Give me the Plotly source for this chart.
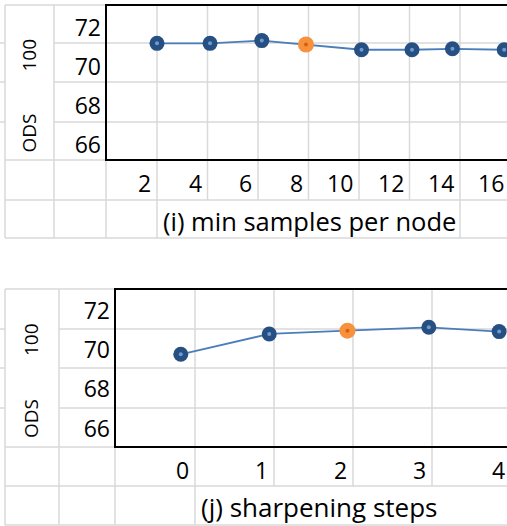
import plotly.graph_objects as go

# ---------------- data ----------------
ods_ticks = [66, 68, 70, 72]

min_samples_ticks = [2, 4, 6, 8, 10, 12, 14, 16]
min_samples_x = [2.0, 4.1, 6.15, 7.9, 10.1, 12.1, 13.7, 15.75]
min_samples_ods = [71.21, 71.21, 71.35, 71.15, 70.88, 70.88, 70.93, 70.88]
min_samples_selected = 3

sharpening_ticks = [0, 1, 2, 3, 4]
sharpening_x = [-0.18, 0.94, 1.93, 2.96, 3.85]
sharpening_ods = [69.80, 70.84, 71.01, 71.18, 70.96]
sharpening_selected = 2

title_i = "(i) min samples per node"
title_j = "(j) sharpening steps"

# ---------------- layout constants (pixels) ----------------
W, H = 507, 526
FONT = "Open Sans"
TICK_SIZE = 23
TITLE_SIZE = 25.5
SIDE_SIZE = 19
GRAY = "#D9D9D9"
GLW = 1.5
BLUE = "#264F82"
BLUE_DOT = "#6F9BD1"
ORANGE = "#F7913D"
ORANGE_DOT = "#D9600A"
LINE = "#4A7EBB"


def px(x):
    return x / W


def py(y):
    return 1 - y / H


# top panel geometry
T = dict(left=106, top=5, bottom=160, x_ref_px=157, x_ref_val=2, x_scale=25.25,
         y_ref_px=28.0, y_ref_val=72, y_scale=19.42)
# bottom panel geometry
B = dict(left=115, top=289, bottom=447, x_ref_px=195, x_ref_val=0, x_scale=79.0,
         y_ref_px=311.3, y_ref_val=72, y_scale=19.53)


def xr(P):
    return [P["x_ref_val"] + (P["left"] - P["x_ref_px"]) / P["x_scale"],
            P["x_ref_val"] + (W - P["x_ref_px"]) / P["x_scale"]]


def yr(P):
    return [P["y_ref_val"] - (P["bottom"] - P["y_ref_px"]) / P["y_scale"],
            P["y_ref_val"] - (P["top"] - P["y_ref_px"]) / P["y_scale"]]


def xval_to_paper(P, v):
    return px(P["x_ref_px"] + (v - P["x_ref_val"]) * P["x_scale"])


fig = go.Figure()


def add_series(xs, ys, sel, xa, ya):
    fig.add_trace(go.Scatter(x=xs, y=ys, mode="lines", xaxis=xa, yaxis=ya,
                             line=dict(color=LINE, width=1.8), hoverinfo="skip",
                             showlegend=False, cliponaxis=False))
    cols = [ORANGE if i == sel else BLUE for i in range(len(xs))]
    sizes = [16 if i == sel else 15 for i in range(len(xs))]
    dots = [ORANGE_DOT if i == sel else BLUE_DOT for i in range(len(xs))]
    fig.add_trace(go.Scatter(x=xs, y=ys, mode="markers", xaxis=xa, yaxis=ya,
                             marker=dict(color=cols, size=sizes, opacity=1, line=dict(width=0)),
                             showlegend=False, cliponaxis=False))
    fig.add_trace(go.Scatter(x=xs, y=ys, mode="markers", xaxis=xa, yaxis=ya,
                             marker=dict(color=dots, size=4, line=dict(width=0)),
                             showlegend=False, cliponaxis=False, hoverinfo="skip"))


add_series(min_samples_x, min_samples_ods, min_samples_selected, "x", "y")
add_series(sharpening_x, sharpening_ods, sharpening_selected, "x2", "y2")

axis_common = dict(showgrid=False, zeroline=False, showline=False, fixedrange=True)
ytick_common = dict(tickvals=ods_ticks, ticktext=[str(v) for v in ods_ticks],
                    tickfont=dict(family=FONT, size=TICK_SIZE, color="black"),
                    ticks="", ticklabelstandoff=4)

fig.update_layout(
    width=W, height=H, autosize=False,
    margin=dict(l=0, r=0, t=0, b=0, pad=0),
    paper_bgcolor="white", plot_bgcolor="rgba(0,0,0,0)",
    xaxis=dict(domain=[px(T["left"]), 1], range=xr(T), showticklabels=False, anchor="y", **axis_common),
    yaxis=dict(domain=[py(T["bottom"]), py(T["top"])], range=yr(T), anchor="x", **ytick_common, **axis_common),
    xaxis2=dict(domain=[px(B["left"]), 1], range=xr(B), showticklabels=False, anchor="y2", **axis_common),
    yaxis2=dict(domain=[py(B["bottom"]), py(B["top"])], range=yr(B), anchor="x2", **ytick_common, **axis_common),
)

shapes = []


def hl(y, x0, x1, color=GRAY, w=GLW):
    shapes.append(dict(type="line", xref="paper", yref="paper", x0=px(x0), x1=px(x1),
                       y0=py(y), y1=py(y), line=dict(color=color, width=w), layer="below"))


def vl(x, y0, y1, color=GRAY, w=GLW):
    shapes.append(dict(type="line", xref="paper", yref="paper", x0=px(x), x1=px(x),
                       y0=py(y0), y1=py(y1), line=dict(color=color, width=w), layer="below"))


def vl_data(xval, xref, y0, y1, color=GRAY, w=GLW):
    shapes.append(dict(type="line", xref=xref, yref="paper", x0=xval, x1=xval,
                       y0=py(y0), y1=py(y1), line=dict(color=color, width=w), layer="below"))


# ---- top panel spreadsheet grid ----
hl(5, 5, 106)
for y in (43, 82, 122):
    hl(y, 54, W + 5)
    hl(y, 0, 5)
hl(160, 5, 106)
hl(200, 5, W + 5)
hl(238, 5, W + 5)
vl(5, 5, 238)
vl(54, 5, 238)
vl(106, 160, 238)
for k in min_samples_ticks:
    yb = 238 if k in (2, 14) else 200
    vl_data(k, "x", 5, yb)

# ---- bottom panel spreadsheet grid ----
hl(289, 5, 115)
for y in (329, 368, 408):
    hl(y, 59, W + 5)
    hl(y, 0, 5)
hl(447, 5, 115)
hl(486, 5, W + 5)
hl(525, 5, W + 5)
vl(5, 289, 525)
vl(59, 289, 525)
vl(115, 447, 525)
for k in sharpening_ticks:
    yb = 525 if k == 0 else 486
    vl_data(k, "x2", 289, yb)

# ---- chart boxes ----
for P in (T, B):
    vl(P["left"], P["top"] - 1, P["bottom"] + 1, color="black", w=2)
    hl(P["top"], P["left"], W + 5, color="black", w=2)
    hl(P["bottom"], P["left"], W + 5, color="black", w=2)

fig.update_layout(shapes=shapes)

ann = []
for k in min_samples_ticks:
    ann.append(dict(x=xval_to_paper(T, k), y=py(183), xref="paper", yref="paper", text=str(k),
                    showarrow=False, xanchor="right", yanchor="middle", xshift=-4,
                    font=dict(family=FONT, size=TICK_SIZE, color="black")))
for k in sharpening_ticks:
    ann.append(dict(x=xval_to_paper(B, k), y=py(469.5), xref="paper", yref="paper", text=str(k),
                    showarrow=False, xanchor="right", yanchor="middle", xshift=-4,
                    font=dict(family=FONT, size=TICK_SIZE, color="black")))

ann.append(dict(x=px(161), y=py(221), xref="paper", yref="paper", text=title_i, showarrow=False,
                xanchor="left", yanchor="middle", font=dict(family=FONT, size=TITLE_SIZE, color="black")))
ann.append(dict(x=px(199), y=py(507), xref="paper", yref="paper", text=title_j, showarrow=False,
                xanchor="left", yanchor="middle", font=dict(family=FONT, size=26, color="black")))

for (ly100, lyods, lx) in ((55, 133, 28.5), (340, 419, 31)):
    ann.append(dict(x=px(lx), y=py(ly100), xref="paper", yref="paper", text="100", textangle=-90,
                    showarrow=False, xanchor="center", yanchor="middle",
                    font=dict(family=FONT, size=SIDE_SIZE, color="black")))
    ann.append(dict(x=px(lx), y=py(lyods), xref="paper", yref="paper", text="ODS", textangle=-90,
                    showarrow=False, xanchor="center", yanchor="middle",
                    font=dict(family=FONT, size=SIDE_SIZE, color="black")))

fig.update_layout(annotations=ann)

fig.write_html(
    "out.html",
    config={"displayModeBar": False},
    post_script="document.body.style.margin='0';document.body.style.padding='0';"
                "document.documentElement.style.overflow='hidden';",
)
